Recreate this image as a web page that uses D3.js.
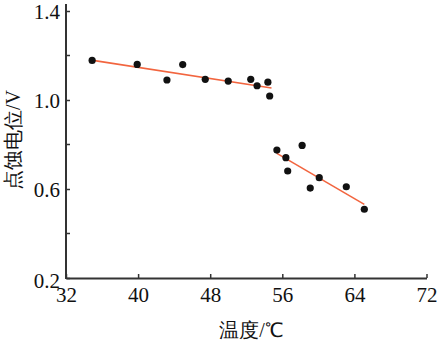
<!DOCTYPE html>
<html>
<head>
<meta charset="utf-8">
<script src="https://cdn.jsdelivr.net/npm/d3@7"></script>
</head>
<body style="margin:0">
<svg id="chart" width="441" height="343"></svg>
<script>
// Pitting potential measured at each temperature, two regimes
const lowTemp  = [34.9, 39.9, 43.2, 44.95, 47.45, 50.0, 52.5, 53.2, 54.4, 54.6];
const lowPot   = [1.178, 1.160, 1.090, 1.159, 1.093, 1.085, 1.093, 1.064, 1.080, 1.018];
const highTemp = [55.4, 56.4, 56.6, 58.2, 59.1, 60.1, 63.1, 65.1];
const highPot  = [0.775, 0.741, 0.681, 0.796, 0.604, 0.651, 0.610, 0.509];

// Fitted trend lines (start/end temperature and potential)
const lowFitTemp  = [35.0, 54.8];
const lowFitPot   = [1.178, 1.054];
const highFitTemp = [55.4, 65.1];
const highFitPot  = [0.760, 0.531];

const xTicks = [32, 40, 48, 56, 64, 72];
const yTicks = [0.2, 0.6, 1.0, 1.4];
const yMinorTicks = [0.4, 0.8, 1.2];

const xLabel = "温度/℃";
const yLabel = "点蚀电位/V";

const svg = d3.select("#chart");
const plotLeft = 66, plotRight = 426.5, plotTop = 11, plotBottom = 278;

const x = d3.scaleLinear().domain([32, 72]).range([plotLeft, plotRight]);
const y = d3.scaleLinear().domain([0.2, 1.4]).range([plotBottom, plotTop]);

const axisColor = "#333";

// Serif face for every label
function serifText(sel, size) {
  sel.attr("font-size", size).style("font-family", "'Liberation Serif'").attr("fill", "#111");
}

// Bottom axis, ticks pointing inward
const gx = svg.append("g").attr("transform", `translate(0,${plotBottom})`)
  .call(d3.axisBottom(x).tickValues(xTicks).tickFormat(d3.format("d")).tickSizeInner(-4).tickSizeOuter(0).tickPadding(9));
gx.attr("font-family", null).attr("font-size", null);
gx.select(".domain").attr("stroke", axisColor).attr("stroke-width", 2);
gx.selectAll(".tick line").attr("stroke", axisColor).attr("stroke-width", 1.5);
gx.selectAll(".tick text").attr("dy", "0.72em").call(serifText, 21);

// Left axis, ticks pointing inward
const gy = svg.append("g").attr("transform", `translate(${plotLeft},0)`)
  .call(d3.axisLeft(y).tickValues(yTicks).tickFormat(d3.format(".1f")).tickSizeInner(-4).tickSizeOuter(0).tickPadding(6));
gy.attr("font-family", null).attr("font-size", null);
gy.select(".domain").remove();
gy.selectAll(".tick line").attr("stroke", axisColor).attr("stroke-width", 1.5);
gy.selectAll(".tick text").attr("dy", "0.34em").call(serifText, 21);
gy.selectAll(".tick").filter(d => d === 0.2).select("text").attr("dy", "0.45em");

svg.append("line")
  .attr("x1", plotLeft).attr("x2", plotLeft)
  .attr("y1", plotTop - 7).attr("y2", plotBottom + 1)
  .attr("stroke", axisColor).attr("stroke-width", 2);

svg.append("g").selectAll("line").data(yMinorTicks).join("line")
  .attr("x1", plotLeft).attr("x2", plotLeft + 4)
  .attr("y1", d => y(d)).attr("y2", d => y(d))
  .attr("stroke", axisColor).attr("stroke-width", 1.5);

// Trend lines
const line = d3.line().x(d => x(d[0])).y(d => y(d[1]));
[[lowFitTemp, lowFitPot], [highFitTemp, highFitPot]].forEach(([t, v]) => {
  svg.append("path")
    .datum(t.map((d, i) => [d, v[i]]))
    .attr("d", line)
    .attr("fill", "none")
    .attr("stroke", "#f2653f")
    .attr("stroke-width", 1.6);
});

// Measured points
const pts = lowTemp.map((d, i) => [d, lowPot[i]])
  .concat(highTemp.map((d, i) => [d, highPot[i]]));
svg.append("g").selectAll("circle").data(pts).join("circle")
  .attr("cx", d => x(d[0])).attr("cy", d => y(d[1]))
  .attr("r", 3.6).attr("fill", "#111");

// Axis titles
svg.append("text")
  .attr("x", 251).attr("y", 337)
  .attr("text-anchor", "middle")
  .call(serifText, 20)
  .text(xLabel);

svg.append("text")
  .attr("transform", `translate(20,140) rotate(-90)`)
  .attr("text-anchor", "middle")
  .call(serifText, 20)
  .text(yLabel);
</script>
</body>
</html>
